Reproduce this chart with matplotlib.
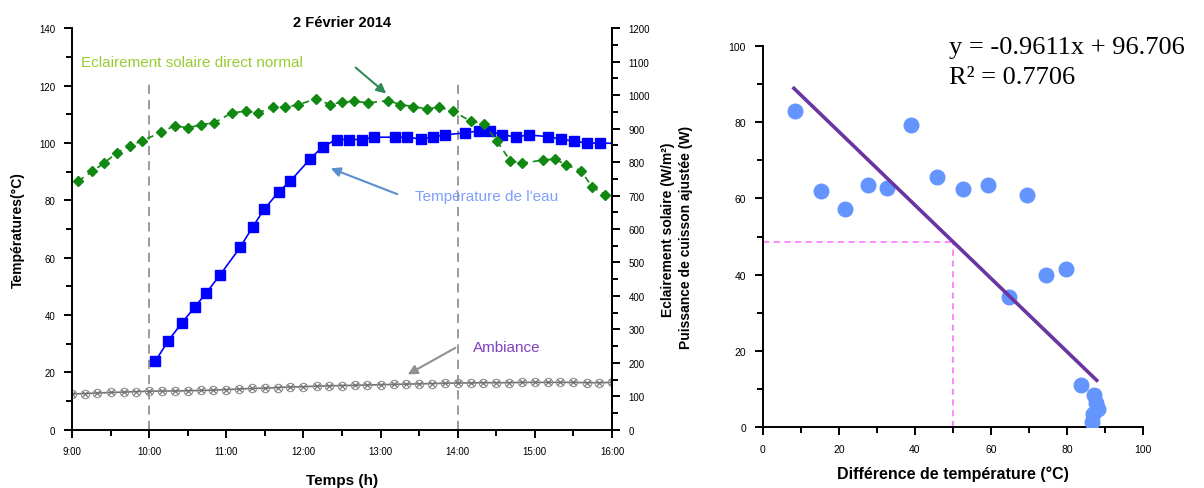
import matplotlib.pyplot as plt
from matplotlib.ticker import MultipleLocator, FuncFormatter

plt.rcParams['font.family'] = ['Liberation Sans', 'DejaVu Sans']

# --- left chart: 2 février 2014 ---
sun_time = [9.08, 9.26, 9.41, 9.58, 9.75, 9.91, 10.16, 10.33, 10.50, 10.67,
            10.84, 11.07, 11.25, 11.41, 11.60, 11.76, 11.93, 12.16, 12.34, 12.50,
            12.66, 12.84, 13.10, 13.25, 13.42, 13.60, 13.76, 13.94, 14.17, 14.34,
            14.51, 14.68, 14.83, 15.10, 15.26, 15.41, 15.60, 15.74, 15.91]
sun_irr = [743, 772, 796, 827, 849, 864, 889, 909, 902, 912,
           917, 947, 952, 947, 964, 964, 971, 989, 972, 979,
           982, 977, 984, 972, 966, 959, 964, 952, 922, 914,
           862, 804, 796, 806, 809, 791, 774, 726, 703]

water_time = [10.08, 10.25, 10.42, 10.59, 10.74, 10.92, 11.18, 11.34, 11.49, 11.68,
              11.83, 12.09, 12.25, 12.43, 12.59, 12.76, 12.92, 13.19, 13.34, 13.52,
              13.68, 13.83, 14.09, 14.27, 14.42, 14.58, 14.76, 14.92, 15.17, 15.34,
              15.51, 15.67, 15.84]
water_temp = [23.9, 31.1, 37.1, 42.7, 47.7, 54.0, 63.6, 70.6, 76.8, 83.0,
              86.7, 94.5, 98.7, 101.2, 101.2, 101.2, 102.0, 102.0, 102.0, 101.4,
              102.1, 102.8, 103.5, 104.2, 104.1, 102.8, 102.1, 102.8, 102.2, 101.3,
              100.6, 100.0, 99.9]

amb_time = [9.0, 9.17, 9.33, 9.5, 9.67, 9.83, 10.0, 10.17, 10.33, 10.5, 10.67, 10.83,
            11.0, 11.17, 11.33, 11.5, 11.67, 11.83, 12.0, 12.17, 12.33, 12.5, 12.67,
            12.83, 13.0, 13.17, 13.33, 13.5, 13.67, 13.83, 14.0, 14.17, 14.33, 14.5,
            14.67, 14.83, 15.0, 15.17, 15.33, 15.5, 15.67, 15.83, 16.0]
amb_temp = [12.5, 12.6, 12.8, 13.0, 13.1, 13.3, 13.4, 13.5, 13.5, 13.6, 13.7, 13.8,
            14.0, 14.2, 14.4, 14.5, 14.7, 14.9, 15.0, 15.2, 15.3, 15.4, 15.5,
            15.6, 15.7, 15.8, 15.9, 16.0, 16.1, 16.2, 16.3, 16.3, 16.4, 16.4,
            16.4, 16.5, 16.5, 16.5, 16.5, 16.5, 16.4, 16.4, 16.5]

hour_labels = ['9:00', '10:00', '11:00', '12:00', '13:00', '14:00', '15:00', '16:00']

# --- right chart: cooking power vs temperature difference ---
delta_t = [8.5, 15.3, 21.6, 27.6, 32.8, 39.1, 45.9, 52.7, 59.2, 69.6,
           64.8, 74.4, 79.8, 83.7, 87.2, 88.1, 86.9, 86.7, 87.5]
power = [82.8, 61.9, 57.2, 63.5, 62.8, 79.2, 65.5, 62.4, 63.5, 60.9,
         34.1, 39.9, 41.5, 11.1, 8.5, 4.8, 3.5, 1.3, 6.5]
slope, intercept = -0.9611, 96.706
fit_x = [8.2, 87.8]
dt_ref = 50

fig = plt.figure(figsize=(12.04, 4.89), dpi=100)

ax = fig.add_axes([0.0598, 0.1192, 0.4485, 0.821])
ax2 = ax.twinx()

for a in (ax, ax2):
    a.spines['top'].set_visible(False)
    for s in a.spines.values():
        s.set_linewidth(1.4)
ax2.spines['left'].set_visible(False)
ax2.spines['bottom'].set_visible(False)

# vertical reference lines
for t in (10, 14):
    ax.plot([t, t], [0, 122], color='#808080', ls=(0, (6, 4)), lw=1.1, zorder=1)

ax.plot(amb_time, amb_temp, color='#707070', lw=1.2, marker='o', ms=6,
        mfc='none', mec='#909090', mew=0.8, zorder=2)
ax.plot(amb_time, amb_temp, ls='none', marker='x', ms=5, mec='#707070', mew=0.8, zorder=2)
ax.plot(water_time + [16.0], water_temp + [99.9], color='#0000ff', lw=1.2, zorder=3)
ax.plot(water_time, water_temp, ls='none', marker='s', ms=7.5, color='#0000ff', zorder=3)
ax2.plot(sun_time, sun_irr, color='#118811', lw=1.2, ls=(0, (4, 3)),
         marker='D', ms=5.5, mfc='#118811', mec='#118811', zorder=3)

ax.set_xlim(9, 16)
ax.set_ylim(0, 140)
ax2.set_ylim(0, 1200)
ax.xaxis.set_major_locator(MultipleLocator(1))
ax.xaxis.set_minor_locator(MultipleLocator(0.5))
ax.xaxis.set_major_formatter(FuncFormatter(lambda v, p: hour_labels[int(round(v)) - 9] if 9 <= round(v) <= 16 else ''))
ax.yaxis.set_major_locator(MultipleLocator(20))
ax.yaxis.set_minor_locator(MultipleLocator(10))
ax2.yaxis.set_major_locator(MultipleLocator(100))
ax2.yaxis.set_minor_locator(MultipleLocator(50))
for a in (ax, ax2):
    a.tick_params(which='major', direction='out', length=6, width=1.4, labelsize=7, pad=6)
    a.tick_params(which='minor', direction='out', length=4, width=1.4)

ax.set_title('2 Février 2014', fontsize=10.5, fontweight='bold', pad=0, y=1.005)
ax.set_xlabel('Temps (h)', fontsize=11, fontweight='bold', labelpad=12)
ax.set_ylabel('Températures(°C)', fontsize=10, fontweight='bold', labelpad=10)
ax2.set_ylabel('Eclairement solaire (W/m²)', fontsize=10, fontweight='bold', labelpad=8)

ax.text(9.12, 127, 'Eclairement solaire direct normal', color='#99cc33', fontsize=11)
ax.annotate('', xy=(13.1, 116.6), xytext=(12.65, 126.9),
            arrowprops=dict(arrowstyle='-|>', color='#2e8b57', lw=1.5, mutation_scale=14))
ax.text(13.45, 80, 'Température de l\'eau', color='#7f9fff', fontsize=11)
ax.annotate('', xy=(12.32, 91.5), xytext=(13.25, 81.8),
            arrowprops=dict(arrowstyle='-|>', color='#5b8fd0', lw=1.5, mutation_scale=14))
ax.text(14.2, 27.6, 'Ambiance', color='#8040c0', fontsize=11)
ax.annotate('', xy=(13.32, 18.8), xytext=(14.0, 29.0),
            arrowprops=dict(arrowstyle='-|>', color='#909090', lw=1.5, mutation_scale=14))

# --- right chart ---
bx = fig.add_axes([0.6335, 0.1241, 0.3159, 0.7804])
bx.spines['top'].set_visible(False)
bx.spines['right'].set_visible(False)
for s in bx.spines.values():
    s.set_linewidth(1.4)

y_ref = slope * dt_ref + intercept
bx.plot([0, dt_ref], [y_ref, y_ref], color='#ff66ff', ls=(0, (4, 3)), lw=1.1)
bx.plot([dt_ref, dt_ref], [0, y_ref], color='#ff66ff', ls=(0, (4, 3)), lw=1.1)
bx.plot(delta_t, power, ls='none', marker='o', ms=10.5, color='#6495ff', zorder=3)
bx.plot(fit_x, [slope * x + intercept for x in fit_x], color='#6a35a0', lw=2.6, zorder=4)

bx.set_xlim(0, 100)
bx.set_ylim(0, 100)
bx.xaxis.set_major_locator(MultipleLocator(20))
bx.xaxis.set_minor_locator(MultipleLocator(10))
bx.yaxis.set_major_locator(MultipleLocator(20))
bx.yaxis.set_minor_locator(MultipleLocator(10))
bx.tick_params(which='major', direction='out', length=6, width=1.4, labelsize=7.5, pad=6)
bx.tick_params(which='minor', direction='out', length=4, width=1.4)
bx.set_xlabel('Différence de température (°C)', fontsize=11.5, fontweight='bold', labelpad=8)
bx.set_ylabel('Puissance de cuisson ajustée (W)', fontsize=10, fontweight='bold', labelpad=26)

bx.text(49, 99.7, 'y = -0.9611x + 96.706', family=['Liberation Serif', 'DejaVu Serif'],
        fontsize=19, va='center')
bx.text(49, 91.8, 'R² = 0.7706', family=['Liberation Serif', 'DejaVu Serif'],
        fontsize=19, va='center')

plt.savefig('out.png')
